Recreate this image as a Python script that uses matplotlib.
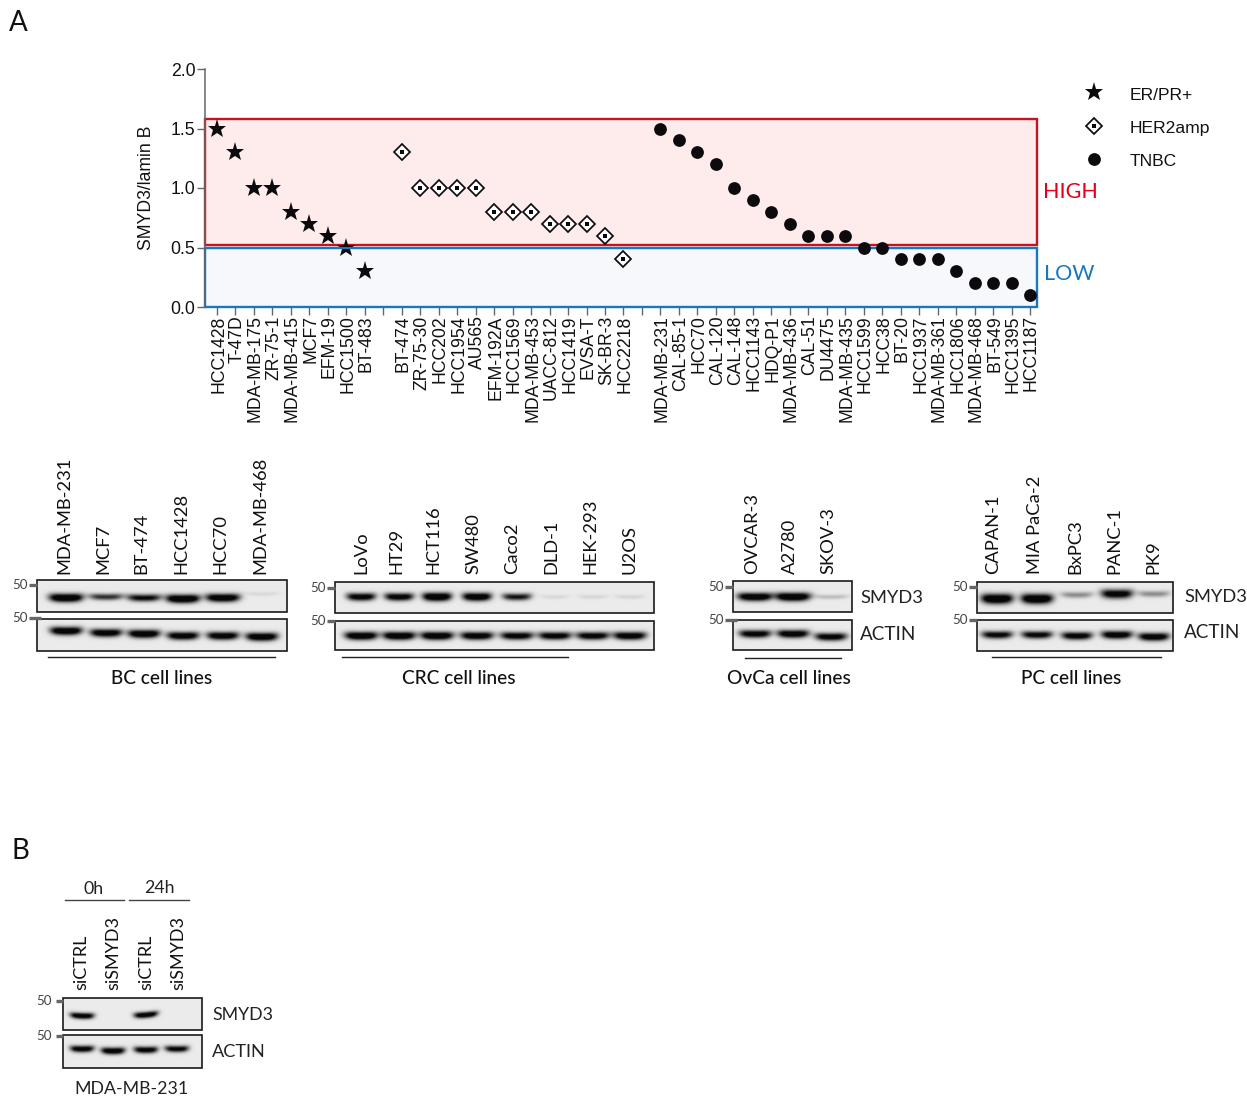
import numpy as np
import matplotlib
matplotlib.use('Agg')
import matplotlib.pyplot as plt
from matplotlib.patches import Rectangle
from matplotlib.transforms import ScaledTranslation

W, H = 1247, 1097

# scatter data (SMYD3/lamin B)
er_names = ['HCC1428', 'T-47D', 'MDA-MB-175', 'ZR-75-1', 'MDA-MB-415', 'MCF7', 'EFM-19', 'HCC1500', 'BT-483']
er_vals = [1.5, 1.3, 1.0, 1.0, 0.8, 0.7, 0.6, 0.5, 0.3]
her2_names = ['BT-474', 'ZR-75-30', 'HCC202', 'HCC1954', 'AU565', 'EFM-192A', 'HCC1569', 'MDA-MB-453',
              'UACC-812', 'HCC1419', 'EVSA-T', 'SK-BR-3', 'HCC2218']
her2_vals = [1.3, 1.0, 1.0, 1.0, 1.0, 0.8, 0.8, 0.8, 0.7, 0.7, 0.7, 0.6, 0.4]
tnbc_names = ['MDA-MB-231', 'CAL-85-1', 'HCC70', 'CAL-120', 'CAL-148', 'HCC1143', 'HDQ-P1', 'MDA-MB-436',
              'CAL-51', 'DU4475', 'MDA-MB-435', 'HCC1599', 'HCC38', 'BT-20', 'HCC1937', 'MDA-MB-361',
              'HCC1806', 'MDA-MB-468', 'BT-549', 'HCC1395', 'HCC1187']
tnbc_vals = [1.5, 1.4, 1.3, 1.2, 1.0, 0.9, 0.8, 0.7, 0.6, 0.6, 0.6, 0.5, 0.5, 0.4, 0.4, 0.4,
             0.3, 0.2, 0.2, 0.2, 0.1]

# blot lanes and band strengths (0 = no band, 1 = darkest)
bc_lanes = ['MDA-MB-231', 'MCF7', 'BT-474', 'HCC1428', 'HCC70', 'MDA-MB-468']
bc_smyd3 = [1.0, 0.6, 0.75, 1.0, 0.95, 0.06]
bc_actin = [0.95, 0.9, 0.95, 0.9, 0.9, 0.95]
crc_lanes = ['LoVo', 'HT29', 'HCT116', 'SW480', 'Caco2', 'DLD-1', 'HEK-293', 'U2OS']
crc_smyd3 = [0.85, 0.85, 1.0, 0.95, 0.7, 0.06, 0.07, 0.07]
crc_actin = [0.95, 0.95, 0.95, 0.9, 0.85, 0.85, 0.85, 0.9]
ov_lanes = ['OVCAR-3', 'A2780', 'SKOV-3']
ov_smyd3 = [0.95, 1.0, 0.15]
ov_actin = [0.85, 0.9, 0.85]
pc_lanes = ['CAPAN-1', 'MIA PaCa-2', 'BxPC3', 'PANC-1', 'PK9']
pc_smyd3 = [1.0, 1.0, 0.3, 0.85, 0.3]
pc_actin = [0.8, 0.8, 0.85, 0.9, 0.9]
b_lanes = ['siCTRL', 'siSMYD3', 'siCTRL', 'siSMYD3']
b_smyd3 = [0.9, 0.0, 0.9, 0.0]
b_actin = [0.85, 0.9, 0.85, 0.8]

SANS = ['Liberation Sans', 'DejaVu Sans']
BLOT = ['Lato', 'DejaVu Sans']

fig = plt.figure(figsize=(W / 100, H / 100), dpi=100)
fig.patch.set_facecolor('white')


def frac_box(x0, y0, x1, y1):
    return [x0 / W, 1 - y1 / H, (x1 - x0) / W, (y1 - y0) / H]


# panel A scatter
ax = fig.add_axes(frac_box(205, 69, 1037, 307))
ax.set_xlim(-0.65, 44.38)
ax.set_ylim(0, 2)
ax.add_patch(Rectangle((-0.65, 0.52), 45.03, 1.06, fc='#feecec', ec='#c5141f', lw=1.7, zorder=1, clip_on=False))
ax.add_patch(Rectangle((-0.65, 0.0), 45.03, 0.495, fc='#f6f8fc', ec='#1877c2', lw=1.7, zorder=1.5, clip_on=False))

labels = er_names + [''] + her2_names + [''] + tnbc_names
ax.set_xticks(np.arange(len(labels)))
ax.set_xticklabels(labels, rotation=90, fontsize=12.7, family=SANS, color='#111111')
ax.set_yticks([0, 0.5, 1.0, 1.5, 2.0])
ax.set_yticklabels(['0.0', '0.5', '1.0', '1.5', '2.0'], fontsize=12.7, family=SANS, color='#111111')
ax.tick_params(axis='y', length=6, width=1, color='#666666', pad=1)
ax.tick_params(axis='x', length=6, width=1, color='#666666', pad=0)
shift = ScaledTranslation(1.5 / 100, 0, fig.dpi_scale_trans)
for lab in ax.get_xticklabels():
    lab.set_transform(lab.get_transform() + shift)
ax.set_ylabel('SMYD3/lamin B', fontsize=12.7, family=SANS, color='#111111', labelpad=11)
for s in ['top', 'right', 'bottom']:
    ax.spines[s].set_visible(False)
ax.spines['left'].set_color('#666666')
ax.spines['left'].set_linewidth(1.1)
ax.patch.set_alpha(0)

ax.plot(np.arange(9), er_vals, ls='', marker='*', ms=14, color='#0c0a0c', mew=0, zorder=3, clip_on=False)
# the blue frame runs over the stars in the reference
ax.plot([-0.65, 44.38], [0.495, 0.495], color='#1877c2', lw=1.5, zorder=3.1)
her2_x = np.arange(10, 23)
ax.plot(her2_x, her2_vals, ls='', marker='D', ms=8.6, mfc='white', mec='#0c0a0c', mew=1.25, zorder=4)
ax.plot(her2_x, her2_vals, ls='', marker='s', ms=3.4, color='#0c0a0c', mew=0, zorder=5)
ax.plot(np.arange(24, 45), tnbc_vals, ls='', marker='o', ms=9.2, color='#0c0a0c', mew=0, zorder=4, clip_on=False)

# overlay in reference pixel coordinates
ov = fig.add_axes([0, 0, 1, 1])
ov.set_axis_off()
ov.patch.set_alpha(0)

ov.plot([1094], [92], marker='*', ms=14, color='#0c0a0c', mew=0)
ov.plot([1094], [126], marker='D', ms=8.6, mfc='white', mec='#0c0a0c', mew=1.25)
ov.plot([1094], [126], marker='s', ms=3.4, color='#0c0a0c', mew=0)
ov.plot([1094], [159], marker='o', ms=9.2, color='#0c0a0c', mew=0)
for y, t in zip([95, 128, 161], ['ER/PR+', 'HER2amp', 'TNBC']):
    ov.text(1130, y, t, fontsize=12.6, family=SANS, va='center', color='#111111')
ov.text(1043, 192, 'HIGH', fontsize=15.5, family=BLOT, va='center', color='#e3001b')
ov.text(1044, 274, 'LOW', fontsize=15.5, family=BLOT, va='center', color='#1877c2')

ov.text(9, 23, 'A', fontsize=20, family=BLOT, va='center', color='#111111')
ov.text(12, 851, 'B', fontsize=20, family=BLOT, va='center', color='#111111')


def blot(x0, y0, x1, y1, lanes_x, strengths, band_y, band_w=34, band_h=4.2, tilt=None):
    # one membrane strip, rendered at twice the pixel size
    nx, ny = int((x1 - x0) * 2), int((y1 - y0) * 2)
    xs = np.linspace(x0, x1, nx)
    ys = np.linspace(y0, y1, ny)
    xx, yy = np.meshgrid(xs, ys)
    img = np.full(xx.shape, 0.92)
    for i, (lx, s) in enumerate(zip(lanes_x, strengths)):
        cy = band_y[i] if np.ndim(band_y) else band_y
        t = tilt[i] if tilt is not None else 0
        w = band_w / 2
        ex = np.exp(-((np.abs(xx - lx) / w) ** 4))
        cyy = cy + t * (xx - lx) / w - 0.8 * ((xx - lx) / w) ** 2
        ey = np.exp(-((yy - cyy) / (band_h * (0.45 + 0.55 * s))) ** 2)
        img -= 1.25 * s * ex * ey
    img = np.clip(img, 0.03, 1)
    ov.imshow(img, extent=(x0, x1, y1, y0), cmap='gray', vmin=0, vmax=1, aspect='auto',
              interpolation='bilinear', zorder=1)
    ov.add_patch(Rectangle((x0, y0), x1 - x0, y1 - y0, fc='none', ec='#1a1a1a', lw=1.2, zorder=2))


def marker50(x_text, x0, x1, y):
    ov.text(x_text, y, '50', fontsize=9.6, family=BLOT, va='center', ha='right', color='#444444')
    ov.plot([x0, x1], [y, y], color='#666666', lw=2.4, solid_capstyle='butt')


def lane_labels(names, xs, bottom, size=13.2):
    for n, x in zip(names, xs):
        ov.text(x, bottom, n, rotation=90, fontsize=size, family=BLOT, ha='center', va='bottom', color='#111111')


def group_label(x, y, t):
    ov.text(x, y, t, fontsize=13.7, family=BLOT, weight='medium', ha='center', va='center', color='#111111')


# BC
bc_x = [66, 106, 144, 183, 223, 262]
lane_labels(bc_lanes, [64, 103, 141, 181, 220, 260], 574)
blot(37, 580, 287, 612, bc_x, bc_smyd3, [598, 597, 598, 599, 598, 594], band_w=34)
blot(37, 619, 287, 651, bc_x, bc_actin, [631, 633, 634, 636, 636, 637], band_w=32)
marker50(28, 29, 37, 585)
marker50(28, 29, 41, 618)
ov.plot([48, 275], [657, 657], color='#222222', lw=1)
group_label(162, 678, 'BC cell lines')

# CRC
crc_x = [361, 399, 437, 477, 517, 555, 593, 630]
lane_labels(crc_lanes, [361, 396, 433, 473, 512, 551, 590, 630], 574)
blot(335, 582, 654, 613, crc_x, crc_smyd3, 597, band_w=29)
blot(335, 621, 654, 650, crc_x, crc_actin, 636, band_w=33)
marker50(326, 327, 335, 588)
marker50(326, 327, 335, 621)
ov.plot([342, 568], [657, 657], color='#222222', lw=1)
group_label(459, 678, 'CRC cell lines')

# OvCa
ov_x = [755, 793, 831]
lane_labels(ov_lanes, [752, 790, 828], 574)
blot(733, 581, 852, 612, ov_x, ov_smyd3, 597, band_w=35)
blot(733, 620, 852, 650, ov_x, ov_actin, [634, 634, 637], band_w=32)
marker50(724, 725, 733, 587)
marker50(724, 725, 737, 620)
ov.plot([745, 841], [658, 658], color='#222222', lw=1)
group_label(789, 678, 'OvCa cell lines')
ov.text(860, 598, 'SMYD3', fontsize=13.2, family=BLOT, va='center', color='#222222')
ov.text(860, 635, 'ACTIN', fontsize=13.6, family=BLOT, va='center', color='#222222')

# PC
pc_x = [997, 1037, 1077, 1117, 1154]
lane_labels(pc_lanes, [993, 1035, 1075, 1114, 1153], 574)
blot(977, 582, 1173, 613, pc_x, pc_smyd3, [599, 599, 595, 594, 594], band_w=32, band_h=5)
blot(977, 620, 1173, 651, pc_x, pc_actin, [635, 635, 636, 635, 637], band_w=31)
marker50(968, 969, 977, 587)
marker50(968, 969, 977, 620)
ov.plot([992, 1161], [657, 657], color='#222222', lw=1)
group_label(1071, 679, 'PC cell lines')
ov.text(1184, 597, 'SMYD3', fontsize=13.2, family=BLOT, va='center', color='#222222')
ov.text(1184, 633, 'ACTIN', fontsize=13.6, family=BLOT, va='center', color='#222222')

# panel B
b_x = [82, 113, 146, 177]
lane_labels(b_lanes, [81, 113, 146, 178], 990, size=13)
blot(63, 998, 202, 1030, b_x, b_smyd3, [1016, 1016, 1015, 1016], band_w=24, band_h=3.2, tilt=[0.4, 0, -1, 0])
blot(63, 1035, 202, 1068, b_x, b_actin, [1049, 1051, 1050, 1049], band_w=24, band_h=3.6)
marker50(52, 56, 63, 1001)
marker50(52, 56, 63, 1036)
ov.plot([65, 124], [900, 900], color='#444444', lw=1)
ov.plot([129, 189], [900, 900], color='#444444', lw=1)
ov.text(94, 889, '0h', fontsize=12.8, family=BLOT, ha='center', va='center', color='#222222')
ov.text(159, 888, '24h', fontsize=12.8, family=BLOT, ha='center', va='center', color='#222222')
ov.text(212, 1015, 'SMYD3', fontsize=12.8, family=BLOT, va='center', color='#222222')
ov.text(212, 1052, 'ACTIN', fontsize=13.1, family=BLOT, va='center', color='#222222')
ov.text(132, 1089, 'MDA-MB-231', fontsize=12.8, family=BLOT, ha='center', va='center', color='#222222')

ov.set_xlim(0, W)
ov.set_ylim(H, 0)

fig.savefig('out.png', dpi=100)
